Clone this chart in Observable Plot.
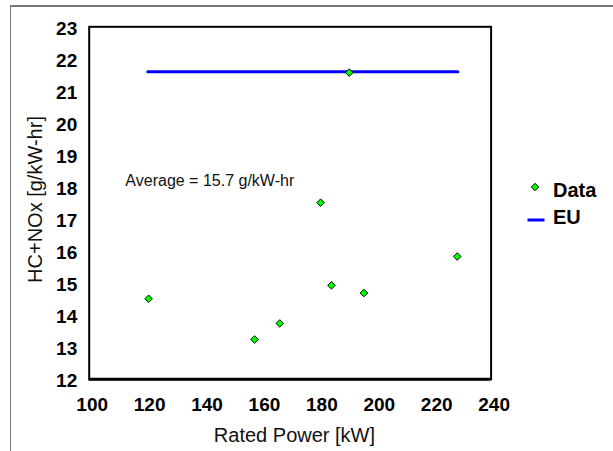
<!DOCTYPE html>
<html><head><meta charset="utf-8">
<script src="https://cdn.jsdelivr.net/npm/d3@7"></script>
<script src="https://cdn.jsdelivr.net/npm/@observablehq/plot@0.6"></script>
<style>
html,body{margin:0;padding:0;background:#fff;overflow:hidden;}
#wrap{position:relative;width:613px;height:451px;font-family:Arial,"Liberation Sans",sans-serif;}
#border{position:absolute;left:10px;top:5px;width:800px;height:800px;border-left:1px solid #777;border-top:2px solid #777;}
#chart{position:absolute;left:0;top:0;}
.leg{position:absolute;font-weight:bold;font-size:20px;line-height:20px;color:#000;white-space:nowrap;}
.legsym{position:absolute;}
</style></head>
<body><div id="wrap"><div id="border"></div><div id="chart"></div></div>
<script>
// Data
const ratedPower = [120.7, 157.6, 166.4, 180.6, 184.4, 195.7, 228.2, 190.6];
const hcNox      = [14.51, 13.24, 13.74, 17.51, 14.93, 14.69, 15.83, 21.57];
const euPower    = [120.4, 228.4];
const euLimit    = [21.6, 21.6];
const xTicks     = [100, 120, 140, 160, 180, 200, 220, 240];
const yTicks     = [12, 13, 14, 15, 16, 17, 18, 19, 20, 21, 22, 23];
const seriesNames = ["Data", "EU"];
const noteText   = ["Average = 15.7 g/kW-hr"];
const noteX      = [112.6];
const noteY      = [18.2];
const xTitle = "Rated Power [kW]";
const yTitle = "HC+NOx [g/kW-hr]";

const dataPts = ratedPower.map((p, i) => ({power: p, value: hcNox[i]}));
const euPts = euPower.map((p, i) => ({power: p, value: euLimit[i]}));
const notes = noteText.map((t, i) => ({text: t, power: noteX[i], value: noteY[i]}));

const chart = Plot.plot({
  width: 613,
  height: 451,
  marginLeft: 88.7,
  marginRight: 122.4,
  marginTop: 26.3,
  marginBottom: 72.3,
  style: {background: "transparent", fontFamily: "Arial, 'Liberation Sans', sans-serif", color: "#000", overflow: "visible"},
  x: {domain: [100, 240]},
  y: {domain: [12, 23]},
  marks: [
    Plot.line(euPts, {x: "power", y: "value", stroke: "#0000ff", strokeWidth: 3}),
    Plot.dot(dataPts, {x: "power", y: "value", symbol: "diamond2", r: 3.4, fill: "#00ff00", stroke: "#000", strokeWidth: 1}),
    Plot.text(notes, {x: "power", y: "value", text: "text", textAnchor: "start", fontSize: 16, fill: "#111"}),
    Plot.frame({stroke: "#000", strokeWidth: 2}),
    Plot.ruleY([12], {stroke: "#000", strokeWidth: 3}),
    Plot.axisX({ticks: xTicks, tickSize: 0, tickPadding: 18, fontSize: 19, fontWeight: "bold", label: null, dx: 3}),
    Plot.axisY({ticks: yTicks, tickSize: 0, tickPadding: 12, fontSize: 19, fontWeight: "bold", label: null, dy: 2}),
    Plot.text([xTitle], {frameAnchor: "bottom", textAnchor: "middle", lineAnchor: "middle", dy: 56.3, dx: 4.3, fontSize: 20, fill: "#111"}),
    Plot.text([yTitle], {frameAnchor: "left", textAnchor: "middle", lineAnchor: "middle", rotate: -90, dx: -53.7, dy: -3.5, fontSize: 20, fill: "#111"})
  ]
});
document.getElementById("chart").appendChild(chart);

// Legend
const wrap = document.getElementById("wrap");
const legRows = [
  {name: seriesNames[0], top: 180.2, kind: "dot"},
  {name: seriesNames[1], top: 207, kind: "line"}
];
legRows.forEach(r => {
  const s = document.createElementNS("http://www.w3.org/2000/svg", "svg");
  s.setAttribute("width", 20); s.setAttribute("height", 12);
  s.setAttribute("class", "legsym");
  s.style.left = "525px";
  s.style.top = (r.top + 9.8 - 6 - (r.kind === "dot" ? 3.5 : -3)) + "px";
  if (r.kind === "dot") {
    const p = document.createElementNS("http://www.w3.org/2000/svg", "path");
    p.setAttribute("d", "M10,2.3L13.7,6L10,9.7L6.3,6Z");
    p.setAttribute("fill", "#00ff00"); p.setAttribute("stroke", "#000"); p.setAttribute("stroke-width", 1);
    s.appendChild(p);
  } else {
    const l = document.createElementNS("http://www.w3.org/2000/svg", "line");
    l.setAttribute("x1", 2.5); l.setAttribute("x2", 19.5); l.setAttribute("y1", 6); l.setAttribute("y2", 6);
    l.setAttribute("stroke", "#0000ff"); l.setAttribute("stroke-width", 3);
    s.appendChild(l);
  }
  wrap.appendChild(s);
  const d = document.createElement("div");
  d.className = "leg";
  d.style.left = "553px";
  d.style.top = r.top + "px";
  d.textContent = r.name;
  wrap.appendChild(d);
});
</script>
</body></html>
